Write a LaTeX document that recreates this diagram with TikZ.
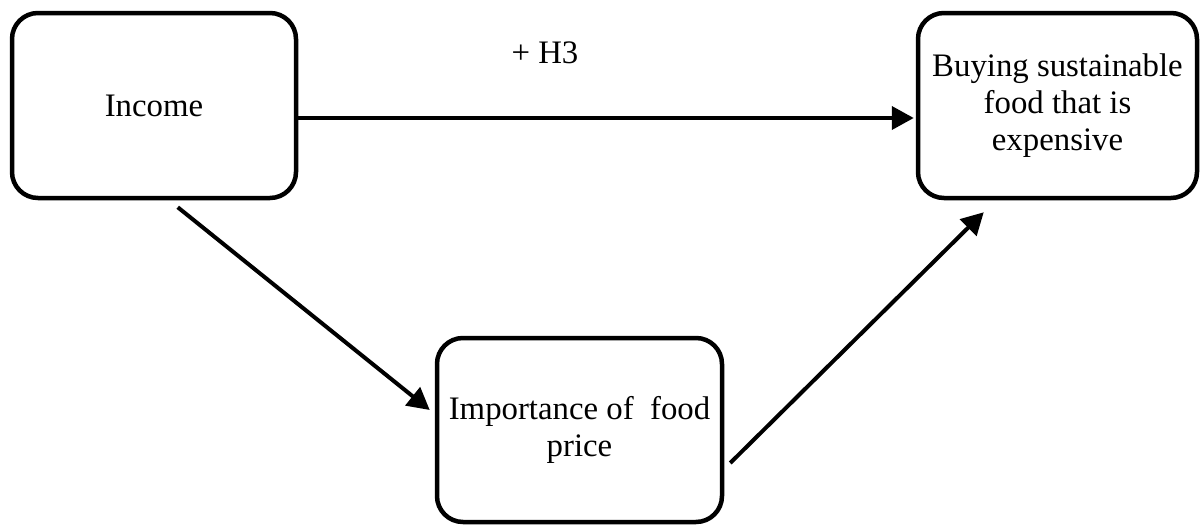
\documentclass[tikz,border=0pt]{standalone}
\usepackage{fontspec}
\setmainfont{Liberation Serif}
\usetikzlibrary{arrows.meta,calc}
\begin{document}
\begin{tikzpicture}[x=1pt,y=-1pt,
  box/.style={draw=black,line width=4.5pt,rounded corners=26pt,align=center,
    inner sep=0pt,font=\fontsize{32.8}{37}\selectfont},
  conn/.style={line width=4pt,-{Triangle[length=22pt,width=23pt]}},
  lbl/.style={font=\fontsize{32.8}{37}\selectfont,inner sep=0pt}]
\useasboundingbox (0,0) rectangle (1200,525);
\node[box,minimum width=284pt,minimum height=185pt] (inc) at (154,105.5) {Income};
\node[box,minimum width=279pt,minimum height=185pt] (buy) at (1057.5,105.5) {Buying sustainable\\food that is\\expensive};
\node[box,minimum width=285pt,minimum height=184pt] (imp) at (579.5,430) {Importance of\ \ food\\price};
\node[lbl] (h3) at (545,53) {+ H3};
\draw[conn] (inc.east |- 0,118) -- ($(buy.west |- 0,118)+(-2,0)$);
\draw[conn] ($(inc.south west)+(168,7)$) -- ($(imp.west)+(-5,-20)$);
\draw[conn] ($(imp.east)+(6,33)$) -- ($(buy.south west)+(68,12)$);
\end{tikzpicture}
\end{document}
